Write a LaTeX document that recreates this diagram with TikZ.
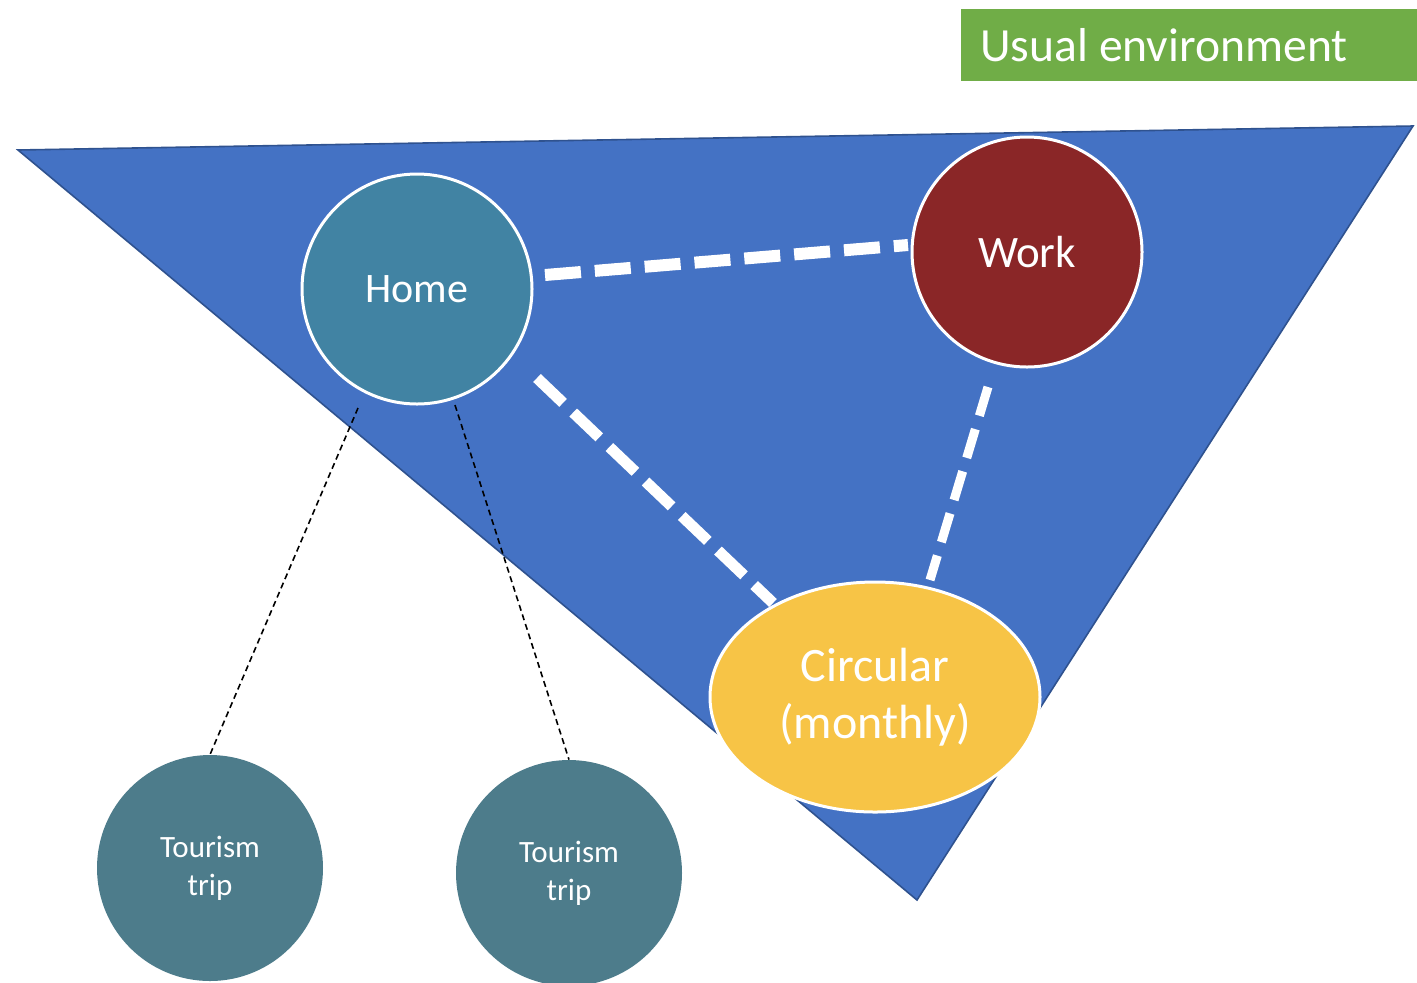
\documentclass[tikz,border=0pt]{standalone}
\usepackage{fontspec}
\setmainfont{Carlito}
\usetikzlibrary{shapes.geometric}
\definecolor{triblue}{HTML}{4472C4}
\definecolor{triedge}{HTML}{2F528F}
\definecolor{homec}{HTML}{4183A3}
\definecolor{workc}{HTML}{8A2627}
\definecolor{circc}{HTML}{F7C446}
\definecolor{tourc}{HTML}{4D7C8B}
\definecolor{greenc}{HTML}{70AD47}
\begin{document}
\begin{tikzpicture}[x=0.5pt,y=-0.5pt,
  bubble/.style={circle,draw=white,line width=1.5pt,text=white,inner sep=0pt},
  whitedash/.style={draw=white,line width=6pt,dash pattern=on 18pt off 7pt},
  blackdash/.style={draw=black,line width=0.8pt,dash pattern=on 3pt off 2pt}]
\useasboundingbox (0,0) rectangle (1417,982);
\fill[white] (0,0) rectangle (1417,982);
% triangle
\filldraw[fill=triblue,draw=triedge,line width=0.8pt] (18,150) -- (1413,126) -- (917,900) -- cycle;
% label box
\node[fill=greenc,minimum width=228pt,minimum height=36pt,anchor=north west,inner sep=0pt] (ue) at (961,9) {};
\node[anchor=west,text=white,font=\fontsize{23.8}{27}\selectfont,inner sep=0pt] (uet) at (980,45) {Usual environment};
% nodes
\node[bubble,fill=homec,minimum size=115pt,font=\fontsize{21}{24}\selectfont] (home) at (417,289) {Home};
\node[bubble,fill=workc,minimum size=115pt,font=\fontsize{22.5}{26}\selectfont] (work) at (1027,252) {Work};
\node[ellipse,draw=white,line width=1.5pt,fill=circc,text=white,minimum width=165pt,minimum height=115pt,inner sep=0pt,align=center,font=\fontsize{24}{28.5}\selectfont] (circ) at (875,697) {Circular\\(monthly)};
\node[circle,fill=tourc,minimum size=113pt,text=white,inner sep=0pt,align=center,font=\fontsize{15.5}{19}\selectfont] (t1) at (210,868) {Tourism\\trip};
\node[circle,fill=tourc,minimum size=113pt,text=white,inner sep=0pt,align=center,font=\fontsize{15.5}{19}\selectfont] (t2) at (569,873) {Tourism\\trip};
% connectors
\coordinate (hw1) at (545,275);
\coordinate (hw2) at (908,245);
\coordinate (hc1) at (537,378);
\coordinate (hc2) at (773,603);
\coordinate (wc1) at (988,387);
\coordinate (wc2) at (930,580);
\coordinate (h1) at (358,408);
\coordinate (h2) at (455,405);
\draw[whitedash] (hw1) -- (hw2);
\draw[whitedash,line width=5.5pt] (hc1) -- (hc2);
\draw[whitedash,line width=4.5pt,dash pattern=on 15pt off 7pt] (wc1) -- (wc2);
\draw[blackdash] (h1) -- (t1.north);
\draw[blackdash] (h2) -- (t2.north);
\end{tikzpicture}
\end{document}
